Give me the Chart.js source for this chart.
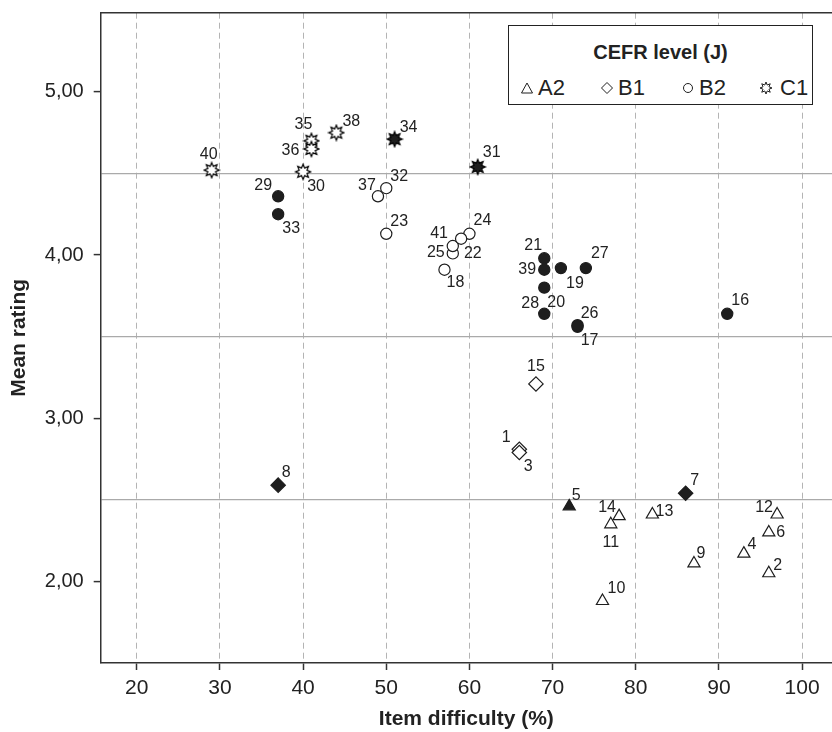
<!DOCTYPE html>
<html>
<head>
<meta charset="utf-8">
<title>Mean rating vs item difficulty</title>
<script src="https://cdn.jsdelivr.net/npm/chart.js@4.4.1/dist/chart.umd.min.js"></script>
<style>
  html, body { margin: 0; padding: 0; background: #fff; overflow: hidden; }
  #wrap { position: relative; width: 832px; height: 732px; font-family: "Liberation Sans", Arial, sans-serif; color: #222; }
  #scatterChart { display: block; }
  #legendBox { position: absolute; left: 508px; top: 25px; width: 305px; height: 80px; box-sizing: border-box; border: 1.5px solid #222; background: #fff; }
  #legendTitle { position: absolute; left: 508px; top: 40px; width: 305px; text-align: center; font-weight: bold; font-size: 20px; line-height: 24px; }
  .lgText { position: absolute; top: 77px; font-size: 22px; line-height: 22px; }
  .lgSym { position: absolute; top: 81px; }
</style>
</head>
<body>
<div id="wrap">
  <canvas id="scatterChart" width="832" height="732"></canvas>
  <div id="legendBox"></div>
  <div id="legendTitle">CEFR level (J)</div>
  <canvas class="lgSym" id="symA2" width="14" height="14" style="left:520px"></canvas>
  <span class="lgText" style="left:538px">A2</span>
  <canvas class="lgSym" id="symB1" width="14" height="14" style="left:600px"></canvas>
  <span class="lgText" style="left:618px">B1</span>
  <canvas class="lgSym" id="symB2" width="14" height="14" style="left:681px"></canvas>
  <span class="lgText" style="left:699px">B2</span>
  <canvas class="lgSym" id="symC1" width="14" height="14" style="left:759px"></canvas>
  <span class="lgText" style="left:780px">C1</span>
</div>
<script>
// data (nomor item 1..41)
const itemNo = [1, 2, 3, 4, 5, 6, 7, 8, 9, 10, 11, 12, 13, 14, 15, 16, 17, 18, 19, 20,
  21, 22, 23, 24, 25, 26, 27, 28, 29, 30, 31, 32, 33, 34, 35, 36, 37, 38, 39, 40, 41];
const difficulty = [66, 96, 66, 93, 72, 96, 86, 37, 87, 76, 77, 97, 82, 78, 68, 91, 73, 57, 71, 69,
  69, 58, 50, 60, 58, 73, 74, 69, 37, 40, 61, 50, 37, 51, 41, 41, 49, 44, 69, 29, 59];
const meanRating = [2.81, 2.05, 2.79, 2.17, 2.46, 2.30, 2.54, 2.59, 2.11, 1.88, 2.35, 2.41, 2.41, 2.40, 3.21, 3.64, 3.56, 3.91, 3.92, 3.80,
  3.98, 4.01, 4.13, 4.13, 4.055, 3.57, 3.92, 3.64, 4.36, 4.51, 4.54, 4.41, 4.25, 4.71, 4.70, 4.65, 4.36, 4.75, 3.91, 4.52, 4.10];
const cefrLevel = ['B1', 'A2', 'B1', 'A2', 'A2', 'A2', 'B1', 'B1', 'A2', 'A2', 'A2', 'A2', 'A2', 'A2', 'B1', 'B2', 'B2', 'B2', 'B2', 'B2',
  'B2', 'B2', 'B2', 'B2', 'B2', 'B2', 'B2', 'B2', 'B2', 'C1', 'C1', 'B2', 'B2', 'C1', 'C1', 'C1', 'B2', 'C1', 'B2', 'C1', 'B2'];
// item dengan simbol hitam (terisi)
const filledItems = [5, 7, 8, 16, 17, 19, 20, 21, 26, 27, 28, 29, 31, 33, 34, 39];
const levels = ['A2', 'B1', 'B2', 'C1'];
const xTicks = [20, 30, 40, 50, 60, 70, 80, 90, 100];
const yTicks = [2, 3, 4, 5];
const refLines = [2.5, 3.5, 4.5];

// posisi label nomor item relatif ke titik (px)
const labelOffset = {
  1: [-13, -12], 2: [9, -8], 3: [9, 14], 4: [8, -9], 5: [7, -11], 6: [12, 0], 7: [9, -13], 8: [8, -13],
  9: [7, -10], 10: [14, -12], 11: [0, 18], 12: [-13, -7], 13: [12, -3], 14: [-12, -9], 15: [0, -17],
  16: [13, -13], 17: [12, 14], 18: [11, 13], 19: [14, 16], 20: [12, 15], 21: [-11, -13], 22: [20, 0],
  23: [13, -12], 24: [13, -13], 25: [-17, 7], 26: [12, -12], 27: [14, -14], 28: [-14, -10], 29: [-15, -11],
  30: [13, 15], 31: [14, -14], 32: [13, -12], 33: [13, 14], 34: [14, -12], 35: [-8, -16], 36: [-21, 2],
  37: [-11, -11], 38: [15, -11], 39: [-17, 0], 40: [-3, -16], 41: [-22, -5]
};

const INK = '#1e1e1e';
const FONT = '"Liberation Sans", Arial, sans-serif';

function starPath(g, cx, cy, rOut, rIn) {
  g.beginPath();
  for (let i = 0; i < 16; i++) {
    const r = i % 2 ? rIn : rOut;
    const a = i * Math.PI / 8 - Math.PI / 2;
    g.lineTo(cx + r * Math.cos(a), cy + r * Math.sin(a));
  }
  g.closePath();
}

function makeStar(filled, size, rOut, rIn) {
  const c = document.createElement('canvas');
  c.width = c.height = size;
  const g = c.getContext('2d');
  starPath(g, size / 2, size / 2, rOut, rIn);
  g.fillStyle = filled ? INK : '#fff';
  g.fill();
  g.lineWidth = 1.2;
  g.strokeStyle = '#000';
  g.stroke();
  return c;
}

const starOpen = makeStar(false, 18, 7.6, 4.2);
const starFilled = makeStar(true, 18, 7.6, 4.2);

const shapeOf = { A2: 'triangle', B1: 'rectRot', B2: 'circle', C1: 'star' };
const radiusOf = { A2: 7, B1: 7.2, B2: 5.6, C1: 7.5 };

const datasets = levels.map(lv => {
  const idx = itemNo.map((n, i) => i).filter(i => cefrLevel[i] === lv);
  const isFilled = idx.map(i => filledItems.includes(itemNo[i]));
  return {
    label: lv,
    data: idx.map(i => ({ x: difficulty[i], y: meanRating[i], item: itemNo[i] })),
    pointStyle: lv === 'C1' ? isFilled.map(f => f ? starFilled : starOpen) : shapeOf[lv],
    pointRadius: radiusOf[lv],
    pointBackgroundColor: isFilled.map(f => f ? INK : '#fff'),
    pointBorderColor: INK,
    pointBorderWidth: 1.2,
    showLine: false
  };
});

const isInt = v => Math.abs(v - Math.round(v)) < 1e-6;

// label nomor item
const pointLabels = {
  id: 'pointLabels',
  afterDatasetsDraw(chart) {
    const ctx = chart.ctx;
    ctx.save();
    ctx.font = '16px ' + FONT;
    ctx.fillStyle = '#222';
    ctx.textAlign = 'center';
    ctx.textBaseline = 'middle';
    chart.data.datasets.forEach((ds, di) => {
      chart.getDatasetMeta(di).data.forEach((pt, j) => {
        const n = ds.data[j].item;
        const off = labelOffset[n] || [10, -10];
        ctx.fillText(String(n), pt.x + off[0], pt.y + off[1]);
      });
    });
    ctx.restore();
  }
};

// garis atas bingkai
const topFrame = {
  id: 'topFrame',
  afterDraw(chart) {
    const { ctx, chartArea } = chart;
    ctx.save();
    ctx.strokeStyle = '#333';
    ctx.lineWidth = 1.5;
    ctx.beginPath();
    ctx.moveTo(chartArea.left, chartArea.top);
    ctx.lineTo(chartArea.right, chartArea.top);
    ctx.stroke();
    ctx.restore();
  }
};

Chart.defaults.font.family = FONT;
Chart.defaults.color = '#222';

new Chart(document.getElementById('scatterChart').getContext('2d'), {
  type: 'scatter',
  data: { datasets },
  options: {
    responsive: false,
    animation: false,
    events: [],
    devicePixelRatio: 1,
    layout: { autoPadding: false, padding: { top: 12.7, right: 0, left: 0, bottom: 0 } },
    plugins: { legend: { display: false }, tooltip: { enabled: false } },
    scales: {
      x: {
        type: 'linear',
        min: 15.66,
        max: 103.6,
        afterBuildTicks: s => { s.ticks = xTicks.map(v => ({ value: v })); },
        afterFit: s => { s.height = 69; s.paddingLeft = 0; s.paddingRight = 0; },
        ticks: { font: { size: 21 }, padding: 6, maxRotation: 0, autoSkip: false, color: '#222' },
        grid: { color: '#b4b4b4', lineWidth: 1, tickColor: '#333', tickLength: 7, tickWidth: 1.5 },
        border: { color: '#333', width: 1.5, dash: [6, 4] },
        title: { display: true, text: 'Item difficulty (%)', font: { size: 21, weight: 'bold' }, color: '#222', padding: { top: 0, bottom: 0 } }
      },
      y: {
        type: 'linear',
        min: 1.5,
        max: 5.485,
        afterBuildTicks: s => {
          s.ticks = yTicks.concat(refLines).sort((a, b) => a - b).map(v => ({ value: v }));
        },
        afterFit: s => { s.width = 100.7; s.paddingTop = 0; s.paddingBottom = 0; },
        ticks: {
          font: { size: 20 },
          padding: 10,
          color: '#222',
          callback: v => isInt(v) ? v.toFixed(2).replace('.', ',') : ''
        },
        grid: {
          color: c => isInt(c.tick.value) ? 'rgba(0,0,0,0)' : '#aaaaaa',
          lineWidth: 1.2,
          tickColor: c => isInt(c.tick.value) ? '#333' : 'rgba(0,0,0,0)',
          tickLength: 7,
          tickWidth: 1.5
        },
        border: { color: '#333', width: 1.5 },
        title: { display: true, text: 'Mean rating', font: { size: 21, weight: 'bold' }, color: '#222', padding: { top: 7, bottom: 0 } }
      }
    }
  },
  plugins: [pointLabels, topFrame]
});

// simbol legenda
function drawSymbol(id, kind) {
  const g = document.getElementById(id).getContext('2d');
  g.strokeStyle = INK;
  g.lineWidth = 1;
  g.beginPath();
  if (kind === 'A2') {
    g.moveTo(7, 2); g.lineTo(12.5, 12); g.lineTo(1.5, 12); g.closePath();
  } else if (kind === 'B1') {
    g.moveTo(7, 1.5); g.lineTo(12.5, 7); g.lineTo(7, 12.5); g.lineTo(1.5, 7); g.closePath();
  } else if (kind === 'B2') {
    g.arc(7, 7, 4.5, 0, Math.PI * 2);
  } else {
    starPath(g, 7, 7, 6, 3.2);
  }
  g.stroke();
}
levels.forEach(lv => drawSymbol('sym' + lv, lv));
</script>
</body>
</html>
